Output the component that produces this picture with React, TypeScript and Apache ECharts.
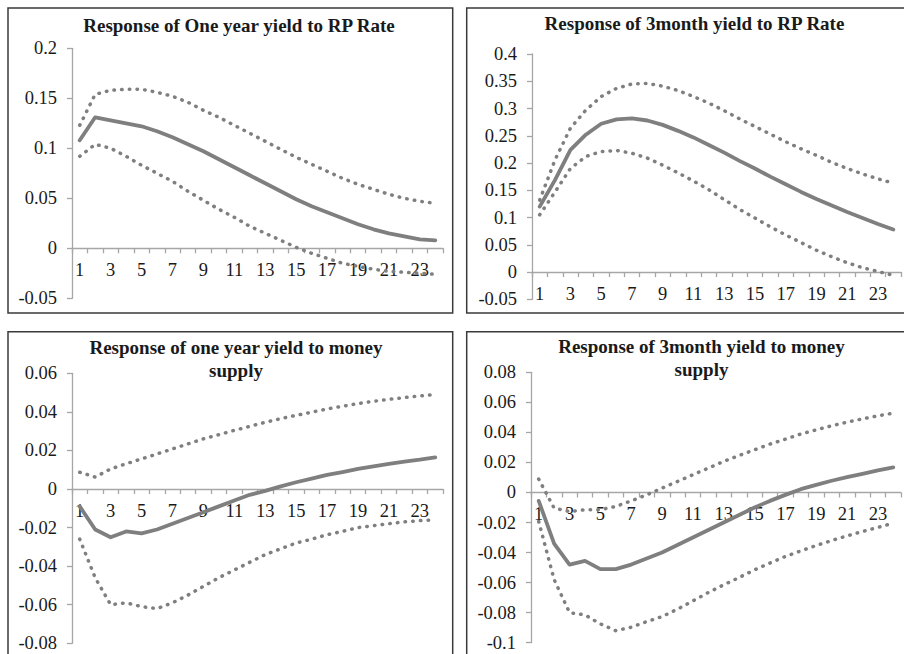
import React, { useEffect, useRef } from "react";
import * as echarts from "echarts";

const periods = Array.from({ length: 24 }, (_, i) => String(i + 1));

const titles = [
  "Response of One year yield to RP Rate",
  "Response of 3month yield to RP Rate",
  "Response of one year yield to money\nsupply",
  "Response of 3month yield to money\nsupply",
];

// Panel 1: One year yield to RP Rate
const p1Mid = [0.108, 0.131, 0.128, 0.125, 0.122, 0.117, 0.111, 0.104, 0.097, 0.089, 0.081, 0.073, 0.065, 0.057, 0.049, 0.042, 0.036, 0.030, 0.024, 0.019, 0.015, 0.012, 0.009, 0.008];
const p1Up = [0.123, 0.154, 0.158, 0.159, 0.159, 0.156, 0.152, 0.146, 0.138, 0.131, 0.123, 0.115, 0.107, 0.099, 0.091, 0.084, 0.077, 0.070, 0.064, 0.059, 0.054, 0.050, 0.047, 0.045];
const p1Lo = [0.092, 0.104, 0.100, 0.092, 0.083, 0.075, 0.067, 0.057, 0.048, 0.039, 0.031, 0.022, 0.015, 0.008, 0.001, -0.005, -0.010, -0.015, -0.018, -0.021, -0.023, -0.024, -0.025, -0.026];

// Panel 2: 3month yield to RP Rate
const p2Mid = [0.120, 0.169, 0.224, 0.252, 0.272, 0.280, 0.282, 0.278, 0.270, 0.259, 0.247, 0.233, 0.219, 0.204, 0.190, 0.175, 0.161, 0.147, 0.134, 0.122, 0.110, 0.099, 0.088, 0.078];
const p2Up = [0.132, 0.206, 0.264, 0.297, 0.322, 0.337, 0.345, 0.346, 0.341, 0.333, 0.322, 0.310, 0.296, 0.281, 0.267, 0.253, 0.239, 0.226, 0.214, 0.201, 0.190, 0.180, 0.171, 0.163];
const p2Lo = [0.105, 0.147, 0.190, 0.212, 0.221, 0.223, 0.218, 0.209, 0.196, 0.182, 0.167, 0.151, 0.133, 0.115, 0.099, 0.083, 0.068, 0.054, 0.040, 0.028, 0.017, 0.008, 0.001, -0.006];

// Panel 3: one year yield to money supply
const p3Mid = [-0.009, -0.021, -0.025, -0.022, -0.023, -0.021, -0.018, -0.015, -0.012, -0.009, -0.006, -0.003, -0.001, 0.0014, 0.0035, 0.0054, 0.0073, 0.0088, 0.0104, 0.0118, 0.013, 0.0142, 0.0152, 0.0164];
const p3Up = [0.0087, 0.0062, 0.0104, 0.0131, 0.0156, 0.0182, 0.0208, 0.0234, 0.026, 0.0282, 0.0304, 0.0325, 0.0346, 0.0365, 0.0382, 0.0398, 0.0415, 0.0429, 0.0443, 0.0455, 0.0465, 0.0474, 0.0483, 0.049];
const p3Lo = [-0.026, -0.046, -0.060, -0.059, -0.061, -0.062, -0.059, -0.055, -0.0505, -0.046, -0.042, -0.038, -0.034, -0.031, -0.028, -0.026, -0.0237, -0.022, -0.020, -0.019, -0.018, -0.017, -0.0164, -0.016];

// Panel 4: 3month yield to money supply
const p4Mid = [-0.0056, -0.034, -0.048, -0.0455, -0.051, -0.051, -0.048, -0.044, -0.040, -0.035, -0.030, -0.025, -0.020, -0.015, -0.010, -0.0056, -0.0016, 0.0022, 0.0051, 0.0078, 0.0102, 0.0124, 0.0147, 0.0167];
const p4Up = [0.0089, -0.0104, -0.0127, -0.0115, -0.0115, -0.0093, -0.0056, -0.0016, 0.0029, 0.0073, 0.0118, 0.0162, 0.0207, 0.0246, 0.0284, 0.0322, 0.0355, 0.0389, 0.0417, 0.0444, 0.0468, 0.049, 0.051, 0.0528];
const p4Lo = [-0.0193, -0.058, -0.080, -0.0815, -0.0875, -0.092, -0.0897, -0.086, -0.0826, -0.0777, -0.0722, -0.0666, -0.0615, -0.0566, -0.0515, -0.047, -0.0426, -0.0389, -0.0353, -0.032, -0.0289, -0.026, -0.0233, -0.0204];

const yMin = [-0.05, -0.05, -0.08, -0.1];
const yMax = [0.2, 0.4, 0.06, 0.08];
const yStep = [0.05, 0.05, 0.02, 0.02];

const panelData = [
  [p1Mid, p1Up, p1Lo],
  [p2Mid, p2Up, p2Lo],
  [p3Mid, p3Up, p3Lo],
  [p4Mid, p4Up, p4Lo],
];

const grids = [
  { left: 72, top: 48.3, width: 371, height: 250 },
  { left: 532, top: 54, width: 369, height: 245.3 },
  { left: 72, top: 373.3, width: 371, height: 270 },
  { left: 531, top: 372.3, width: 370, height: 270.4 },
];

const titlePos = [
  { x: 239, y: 25 },
  { x: 694.5, y: 23 },
  { x: 236, y: 358.7 },
  { x: 701.5, y: 358 },
];

const boxes = [
  { x: 8, y: 8, width: 444.7, height: 305 },
  { x: 466.7, y: 8, width: 460, height: 305 },
  { x: 8, y: 331.7, width: 444.7, height: 340 },
  { x: 466.7, y: 331.7, width: 460, height: 340 },
];

const LINE = "#7f7f7f";
const AXIS = "#a6a6a6";
const FONT = "'Liberation Serif', 'Times New Roman', serif";

export default function App() {
  const ref = useRef<HTMLDivElement>(null);
  useEffect(() => {
    if (!ref.current) return;
    const chart = echarts.init(ref.current, undefined, { renderer: "svg" });
    const series: any[] = [];
    panelData.forEach((arr, p) => {
      arr.forEach((d, k) => {
        series.push({
          type: "line",
          xAxisIndex: p,
          yAxisIndex: p,
          data: d,
          symbol: "none",
          smooth: false,
          z: k === 0 ? 3 : 2,
          lineStyle:
            k === 0
              ? { color: LINE, width: 3.8, cap: "round", join: "round" }
              : { color: LINE, width: 3.5, type: [0.5, 7.2], cap: "round", join: "round" },
        });
      });
    });
    chart.setOption({
      animation: false,
      backgroundColor: "#ffffff",
      grid: grids.map((g) => ({ ...g, containLabel: false })),
      xAxis: grids.map((g, i) => ({
        type: "category",
        gridIndex: i,
        data: periods,
        boundaryGap: true,
        position: "bottom",
        // put the category axis on the zero line of its value axis
        offset: -((0 - yMin[i]) / (yMax[i] - yMin[i])) * g.height,
        axisLine: { onZero: false, lineStyle: { color: AXIS, width: 1.3 } },
        axisTick: { show: true, interval: 0, length: 5, lineStyle: { color: AXIS, width: 1.3 } },
        axisLabel: { interval: 1, margin: 12, fontFamily: FONT, fontSize: 18.5, color: "#1a1a1a" },
        splitLine: { show: false },
      })),
      yAxis: grids.map((_, i) => ({
        type: "value",
        gridIndex: i,
        min: yMin[i],
        max: yMax[i],
        interval: yStep[i],
        axisLine: { show: true, onZero: false, lineStyle: { color: AXIS, width: 1.3 } },
        axisTick: { show: true, length: 5, lineStyle: { color: AXIS, width: 1.3 } },
        axisLabel: { margin: 15, fontFamily: FONT, fontSize: 18.5, color: "#1a1a1a" },
        splitLine: { show: false },
      })),
      graphic: [
        ...boxes.map((b) => ({
          type: "rect",
          shape: b,
          style: { fill: "none", stroke: "#3a3a3a", lineWidth: 1.5 },
          silent: true,
        })),
        ...titles.map((t, i) => ({
          type: "text",
          x: titlePos[i].x,
          y: titlePos[i].y,
          style: {
            text: t,
            fontFamily: FONT,
            fontSize: 19,
            fontWeight: "bold",
            fill: "#1a1a1a",
            textAlign: "center",
            textVerticalAlign: "middle",
            lineHeight: 23,
          },
        })),
      ],
      series,
    });
    return () => chart.dispose();
  }, []);
  return (
    <div
      ref={ref}
      style={{ position: "absolute", left: 0, top: 0, width: 904, height: 654, background: "#fff" }}
    />
  );
}
